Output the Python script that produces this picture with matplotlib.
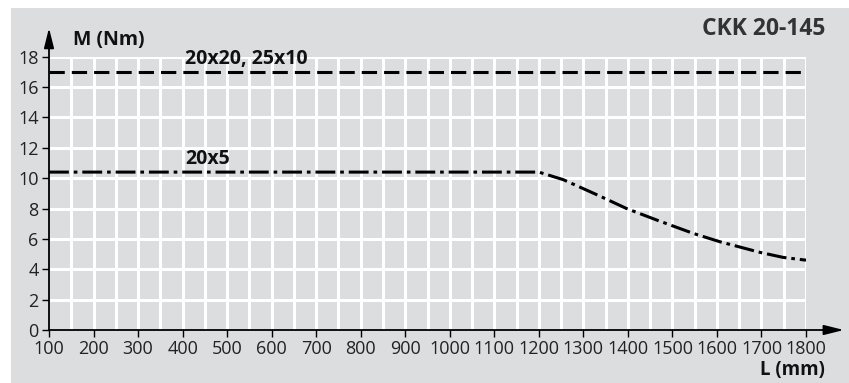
import matplotlib
matplotlib.use("Agg")
import matplotlib.pyplot as plt
from matplotlib.patches import Rectangle

plt.rcParams['font.family'] = ['Open Sans', 'DejaVu Sans']

# Data
L_top = [100, 1800]
M_top = [17.0, 17.0]
L_20x5 = [100, 1200, 1255, 1337, 1397, 1465, 1547, 1607, 1697, 1749, 1800]
M_20x5 = [10.4, 10.4, 9.9, 8.82, 8.0, 7.24, 6.36, 5.81, 5.11, 4.78, 4.6]
x_ticks = list(range(100, 1801, 100))
y_ticks = list(range(0, 19, 2))
label_top = "20x20, 25x10"
label_low = "20x5"
title = "CKK 20-145"
ylabel = "M (Nm)"
xlabel = "L (mm)"

W, H = 849, 383
fig = plt.figure(figsize=(W / 100, H / 100), dpi=100)
bg = "#dcdddf"
fig.patches.append(Rectangle((11 / W, 0), 1 - 11 / W, 1 - 8 / H,
                             transform=fig.transFigure, facecolor=bg,
                             edgecolor="none", zorder=-10))

ax = fig.add_axes([49 / W, 1 - 330 / H, (806 - 49) / W, (330 - 56.7) / H])
ax.set_facecolor("none")
ax.set_zorder(5)
ax.set_xlim(100, 1800)
ax.set_ylim(0, 18)

# grid
for xv in range(150, 1801, 50):
    ax.plot([xv, xv], [0, 18], color="white", lw=2.2, zorder=1, solid_capstyle="butt")
for yv in range(2, 19, 2):
    ax.plot([100, 1800], [yv, yv], color="white", lw=2.2, zorder=1, solid_capstyle="butt")

for s in ax.spines.values():
    s.set_visible(False)

ax.set_xticks(x_ticks)
ax.set_yticks(y_ticks)
ax.tick_params(axis="both", length=5, width=1.0, color="black",
               labelsize=13, labelcolor="#222222")
ax.tick_params(axis="x", pad=2.5)
ax.tick_params(axis="y", pad=2.5)

# axis arrows
ax.annotate("", xy=(1.05, 0), xytext=(0, 0), xycoords="axes fraction",
            arrowprops=dict(arrowstyle="-|>,head_length=1.2,head_width=0.3",
                            color="black", lw=1.3, shrinkA=0, shrinkB=0))
ax.annotate("", xy=(0, 1.105), xytext=(0, 0), xycoords="axes fraction",
            arrowprops=dict(arrowstyle="-|>,head_length=1.2,head_width=0.3",
                            color="black", lw=1.3, shrinkA=0, shrinkB=0))

lw = 2.2
ax.plot(L_top, M_top, color="black", lw=lw, dashes=(5, 2.3), zorder=3)
ax.plot(L_20x5, M_20x5, color="black", lw=lw, dashes=(6.5, 1.6, 1.2, 1.6), zorder=3)

ax.text(405, 17.52, label_top, fontsize=14, fontweight="bold", va="baseline",
        ha="left", color="#111111")
ax.text(405, 10.93, label_low, fontsize=14, fontweight="bold", va="baseline",
        ha="left", color="#111111")

fig.text(73 / W, 1 - 45 / H, ylabel, fontsize=14, fontweight="bold",
         ha="left", va="baseline", color="#111111")
fig.text(825 / W, 1 - 35 / H, title, fontsize=16.5, fontweight="bold",
         ha="right", va="baseline", color="#333333")
fig.text(825 / W, 1 - 375 / H, xlabel, fontsize=13.5, fontweight="bold",
         ha="right", va="baseline", color="#111111")

fig.savefig("out.png", dpi=100)
